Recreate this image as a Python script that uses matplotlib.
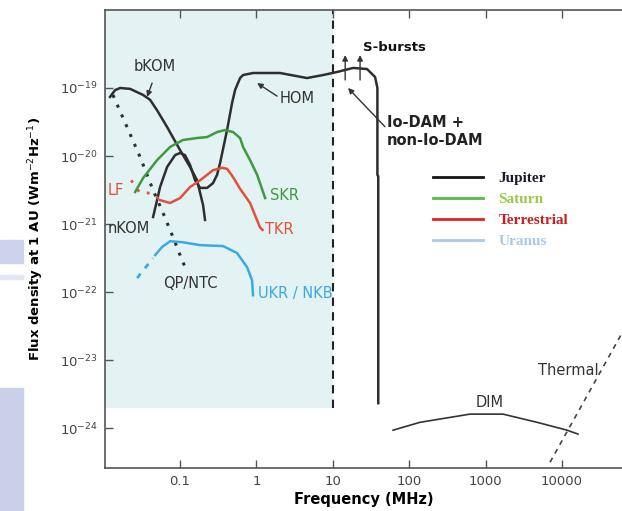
import matplotlib.pyplot as plt
import numpy as np
from matplotlib.lines import Line2D
from matplotlib.patches import Rectangle
from matplotlib.ticker import FixedLocator, NullLocator

# frequency in MHz, flux density in W m^-2 Hz^-1
bkom_f = [0.0121, 0.0141, 0.0164, 0.0222, 0.0328, 0.0405, 0.05, 0.0676, 0.1, 0.135, 0.167, 0.183, 0.2, 0.212]
bkom_s = [7.4e-20, 9.3e-20, 1e-19, 9.7e-20, 7.9e-20, 6.7e-20, 4.7e-20, 2.67e-20, 1.22e-20, 6.9e-21, 4.4e-21, 2.86e-21, 1.9e-21, 1.15e-21]

jup_f = [0.0443, 0.05, 0.0547, 0.0676, 0.086, 0.1, 0.116, 0.135, 0.157, 0.183, 0.226, 0.27, 0.305,
         0.334, 0.412, 0.479, 0.525, 0.61, 0.668, 0.902, 2.04, 4.59, 7.44, 11.4, 18.4, 28.0, 35.7,
         38.3, 38.3, 39.3, 39.3]
jup_s = [1.27e-21, 2.25e-21, 3.5e-21, 6.9e-21, 1.03e-20, 1.11e-20, 1.03e-20, 7.4e-21, 4.4e-21, 3.4e-21,
         3.4e-21, 4.0e-21, 5.3e-21, 7.9e-21, 2.41e-20, 6.0e-20, 9.35e-20, 1.4e-19, 1.55e-19, 1.66e-19,
         1.66e-19, 1.4e-19, 1.55e-19, 1.72e-19, 1.97e-19, 1.9e-19, 1.45e-19, 1e-19, 5.3e-21, 5.0e-21, 2.33e-24]

qp_f = [0.0132, 0.0202, 0.0299, 0.0443, 0.0599, 0.0809, 0.106, 0.124]
qp_s = [7.9e-20, 2.67e-20, 9.7e-21, 3.16e-21, 1.45e-21, 6.4e-22, 2.96e-22, 1.97e-22]

lf_f = [0.0229, 0.0299, 0.0431, 0.0547]
lf_s = [4.4e-21, 2.86e-21, 2.86e-21, 2.25e-21]
tkr_f = [0.0547, 0.074, 0.1, 0.135, 0.183, 0.27, 0.355, 0.412, 0.494, 0.61, 0.824, 1.11, 1.2]
tkr_s = [2.25e-21, 2.04e-21, 2.41e-21, 3.5e-21, 4.4e-21, 6.2e-21, 6.7e-21, 6.5e-21, 4.9e-21, 3.3e-21, 2.04e-21, 9.0e-22, 8.2e-22]

skr_f = [0.0258, 0.0328, 0.05, 0.074, 0.109, 0.167, 0.226, 0.305, 0.388, 0.494, 0.61, 0.668, 0.824, 1.02, 1.3]
skr_s = [2.96e-21, 4.75e-21, 8.7e-21, 1.36e-20, 1.72e-20, 1.84e-20, 1.9e-20, 2.25e-20, 2.41e-20, 2.25e-20,
         1.84e-20, 1.36e-20, 8.7e-21, 5.3e-21, 2.41e-21]

ukr_dot_f = [0.0274, 0.0443]
ukr_dot_s = [1.61e-22, 3.16e-22]
ukr_f = [0.0471, 0.0581, 0.074, 0.109, 0.183, 0.366, 0.557, 0.753, 0.875, 0.902]
ukr_s = [3.5e-22, 4.6e-22, 5.6e-22, 5.4e-22, 4.9e-22, 4.75e-22, 3.75e-22, 2.33e-22, 1.5e-22, 9.0e-23]

dim_f = [61.4, 138, 625, 1690, 4710, 11640, 16200]
dim_s = [9.35e-25, 1.22e-24, 1.61e-24, 1.61e-24, 1.22e-24, 9.35e-25, 8.2e-25]

thermal_f = [6970, 61000]
thermal_s = [3.16e-25, 2.5e-23]

sburst_f = [14.5, 22.7]
sburst_s0, sburst_s1 = 1.31e-19, 3.05e-19

shade_fmax, shade_smin = 10, 2e-24

xticks = [0.1, 1, 10, 100, 1000, 10000]
xtick_labels = ['0.1', '1', '10', '100', '1000', '10000']
yticks = [1e-24, 1e-23, 1e-22, 1e-21, 1e-20, 1e-19]

legend_names = ['Jupiter', 'Saturn', 'Terrestrial', 'Uranus']
legend_line_colors = ['#151515', '#5cb84a', '#e02222', '#a9c9ec']
legend_text_colors = ['#1a1a2a', '#96cc45', '#c82020', '#a9c9ec']

xlim = (0.0104, 61000)
ylim = (2.6e-25, 1.4e-18)

dark = '#2e2e2e'
green = '#3d9a3d'
red = '#e2503c'
blue = '#3aaae2'

fig = plt.figure(figsize=(6.22, 5.11), dpi=100)
# slide background stripes at the left edge (behind everything)
for y0, h, c in [(248 / 511, 23 / 511, '#cdd3ea'), (232 / 511, 4 / 511, '#e3e7f3'), (0, 123 / 511, '#c9d0e8')]:
    fig.patches.append(Rectangle((0, y0), 23 / 622, h, transform=fig.transFigure, color=c, zorder=-5))

ax = fig.add_axes([105 / 622, 43 / 511, 517 / 622, 458 / 511])
ax.patch.set_alpha(0)
ax.set_xscale('log')
ax.set_yscale('log')
ax.set_xlim(*xlim)
ax.set_ylim(*ylim)

ax.fill_between([xlim[0], shade_fmax], shade_smin, ylim[1], color='#e3f3f3', lw=0, zorder=0)
ax.plot([shade_fmax, shade_fmax], [shade_smin, ylim[1]], color='#222', lw=1.5, ls=(0, (4, 3)), zorder=1)

ax.plot(bkom_f, bkom_s, color=dark, lw=1.8)
ax.plot(jup_f, jup_s, color=dark, lw=1.8)
ax.plot(qp_f, qp_s, color=dark, lw=2.2, ls=(0, (1, 2.5)))
ax.plot(lf_f, lf_s, color=red, lw=2, ls=(0, (1, 3)))
ax.plot(tkr_f, tkr_s, color=red, lw=1.8)
ax.plot(skr_f, skr_s, color=green, lw=1.8)
ax.plot(ukr_dot_f, ukr_dot_s, color=blue, lw=2, ls=(0, (2, 2.5)))
ax.plot(ukr_f, ukr_s, color=blue, lw=1.8)
ax.plot(dim_f, dim_s, color='#333', lw=1.2)
ax.plot(thermal_f, thermal_s, color='#444', lw=1.2, ls=(0, (3, 3)))

arrow = dict(arrowstyle='-|>', color='#333', lw=1, mutation_scale=8, shrinkA=0, shrinkB=0)
for f in sburst_f:
    ax.annotate('', xy=(f, sburst_s1), xytext=(f, sburst_s0), arrowprops=arrow)
ax.annotate('', xy=(0.037, 7.4e-20), xytext=(0.043, 1.18e-19), arrowprops=arrow)
ax.annotate('', xy=(1.02, 1.18e-19), xytext=(1.86, 7.6e-20), arrowprops=arrow)
ax.annotate('', xy=(15.8, 1e-19), xytext=(48, 2.7e-20), arrowprops=arrow)

tk = dict(fontsize=10.5, va='center')
ax.text(0.047, 2.04e-19, 'bKOM', color='#333', ha='center', **tk)
ax.text(2.04, 7.1e-20, 'HOM', color='#333', ha='left', **tk)
ax.text(0.0111, 3.16e-21, 'LF', color=red, ha='left', **tk)
ax.text(1.5, 2.67e-21, 'SKR', color=green, ha='left', **tk)
ax.text(1.3, 8.2e-22, 'TKR', color=red, ha='left', **tk)
ax.text(0.0111, 8.7e-22, 'nKOM', color='#333', ha='left', **tk)
ax.text(0.06, 1.36e-22, 'QP/NTC', color='#333', ha='left', **tk)
ax.text(1.05, 9.7e-23, 'UKR / NKB', color=blue, ha='left', **tk)
ax.text(24.8, 3.87e-19, 'S-bursts', color='#111', ha='left', fontsize=9.5, fontweight='bold', va='center')
ax.text(51, 3.06e-20, 'Io-DAM +', color='#222', ha='left', fontsize=10.5, fontweight='bold', va='center')
ax.text(51, 1.72e-20, 'non-Io-DAM', color='#222', ha='left', fontsize=10.5, fontweight='bold', va='center')
ax.text(1143, 2.41e-24, 'DIM', color='#333', ha='center', **tk)
ax.text(4850, 7.1e-24, 'Thermal', color='#333', ha='left', **tk)

handles = [Line2D([], [], color=c, lw=2) for c in legend_line_colors]
ax.legend(handles, legend_names, loc='upper left', bbox_to_anchor=(0.634, 0.648), frameon=False,
          borderaxespad=0, borderpad=0, handlelength=3.3, handletextpad=1.0, labelspacing=0.48,
          prop=dict(family='Liberation Serif', weight='bold', size=11), labelcolor=legend_text_colors)

ax.xaxis.set_major_locator(FixedLocator(xticks))
ax.set_xticklabels(xtick_labels)
ax.xaxis.set_minor_locator(NullLocator())
ax.yaxis.set_major_locator(FixedLocator(yticks))
ax.yaxis.set_minor_locator(NullLocator())
ax.tick_params(which='both', direction='in', top=True, right=False, length=6, width=1,
               color='#555', labelsize=9.5, labelcolor='#444', pad=5)
for s in ['left', 'bottom', 'top']:
    ax.spines[s].set_color('#555')
    ax.spines[s].set_linewidth(1.2)
ax.spines['right'].set_visible(False)

ax.set_xlabel('Frequency (MHz)', fontsize=10.5, fontweight='bold', labelpad=3)
ax.set_ylabel('Flux density at 1 AU (Wm$^{-2}$Hz$^{-1}$)', fontsize=9.5, fontweight='bold')
ax.yaxis.set_label_coords(-0.114, 0.5)

fig.savefig('out.png', dpi=100)
